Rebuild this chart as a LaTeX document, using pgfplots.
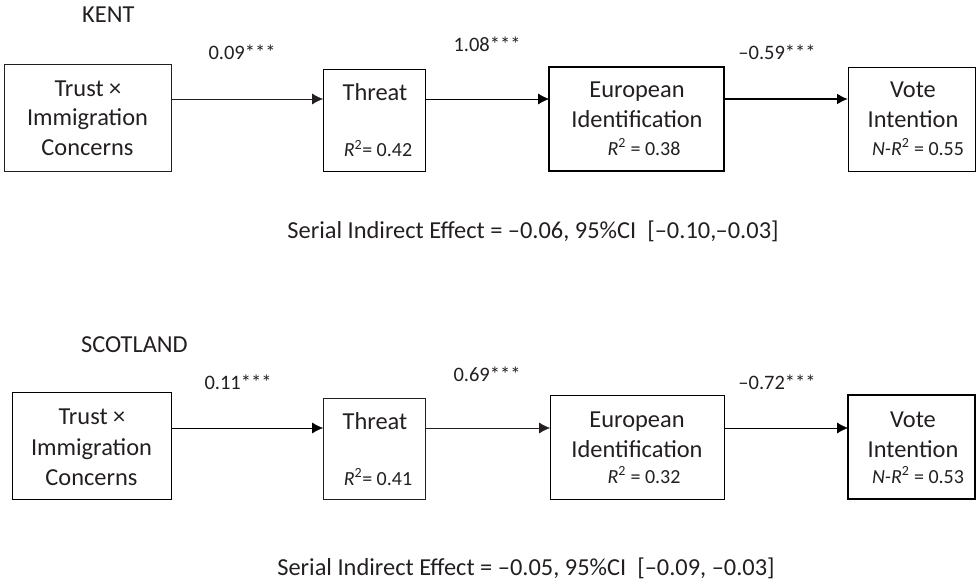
\documentclass[border=0pt]{standalone}
\usepackage{fontspec}
\setmainfont{Carlito}
\usepackage{pgfplots}
\pgfplotsset{compat=1.18}
\usetikzlibrary{arrows.meta}

\definecolor{ink}{HTML}{231F20}
\newcommand{\sq}{\smash{\textsuperscript{2}}}
\tikzset{
    coef/.style={font=\fontsize{20.5}{24}\selectfont},
    rsq/.style={font=\fontsize{20}{24}\selectfont},
}

\begin{document}
\begin{tikzpicture}
\begin{axis}[
    width=977pt, height=583pt,
    scale only axis,
    xmin=0, xmax=977, ymin=0, ymax=583,
    y dir=reverse,
    hide axis,
    clip=false,
    cycle list={{ink, solid, line width=2pt, mark=none}},
    nodes={font=\fontsize{24.4}{29}\selectfont, text=ink, inner sep=0pt},
]
% ---- KENT ----
\addplot coordinates {(4,64) (171,64) (171,171) (4,171) (4,64)} -- cycle;
\addplot coordinates {(323,69) (425,69) (425,171) (323,171) (323,69)} -- cycle;
\addplot coordinates {(549,67) (724,67) (724,171) (549,171) (549,67)} -- cycle;
\addplot coordinates {(848,67) (975,67) (975,171) (848,171) (848,67)} -- cycle;
\addplot+[-{Latex[length=11pt,width=11pt]}] coordinates {(171,99) (323,99)};
\addplot+[-{Latex[length=11pt,width=11pt]}] coordinates {(425,99) (549,99)};
\addplot+[-{Latex[length=11pt,width=11pt]}] coordinates {(724,99) (848,99)};

\node[anchor=base west] at (axis cs:82,23) {KENT};
\node[coef, anchor=base] at (axis cs:242,60) {0.09***};
\node[coef, anchor=base] at (axis cs:487,52) {1.08***};
\node[coef, anchor=base] at (axis cs:777,60) {–0.59***};

\node[anchor=base] at (axis cs:88,97) {Trust ×};
\node[anchor=base] at (axis cs:87.5,126) {Immigration};
\node[anchor=base] at (axis cs:87.5,156) {Concerns};
\node[anchor=base] at (axis cs:375,101) {Threat};
\node[rsq, anchor=base] at (axis cs:378,157) {{\itshape R}\sq= 0.42};
\node[anchor=base] at (axis cs:637,98) {European};
\node[anchor=base] at (axis cs:637,128) {Identification};
\node[rsq, anchor=base] at (axis cs:644,155) {{\itshape R}\sq{} = 0.38};
\node[anchor=base] at (axis cs:913,98) {Vote};
\node[anchor=base] at (axis cs:913,128) {Intention};
\node[rsq, anchor=base] at (axis cs:918,155) {{\itshape N-R}\sq{} = 0.55};
\node[anchor=base] at (axis cs:533,238) {Serial Indirect Effect = –0.06, 95\%CI\ \ [–0.10,–0.03]};

% ---- SCOTLAND ----
\addplot coordinates {(12,392) (171,392) (171,499) (12,499) (12,392)} -- cycle;
\addplot coordinates {(323,398) (425,398) (425,499) (323,499) (323,398)} -- cycle;
\addplot coordinates {(550,395) (724,395) (724,499) (550,499) (550,395)} -- cycle;
\addplot coordinates {(848,395) (975,395) (975,499) (848,499) (848,395)} -- cycle;
\addplot+[-{Latex[length=11pt,width=11pt]}] coordinates {(171,428) (323,428)};
\addplot+[-{Latex[length=11pt,width=11pt]}] coordinates {(425,428) (550,428)};
\addplot+[-{Latex[length=11pt,width=11pt]}] coordinates {(724,428) (848,428)};

\node[anchor=base west] at (axis cs:81,352) {SCOTLAND};
\node[coef, anchor=base] at (axis cs:238,389) {0.11***};
\node[coef, anchor=base] at (axis cs:487,381) {0.69***};
\node[coef, anchor=base] at (axis cs:777,389) {–0.72***};

\node[anchor=base] at (axis cs:92,424) {Trust ×};
\node[anchor=base] at (axis cs:91.5,455) {Immigration};
\node[anchor=base] at (axis cs:91.5,485) {Concerns};
\node[anchor=base] at (axis cs:375,429) {Threat};
\node[rsq, anchor=base] at (axis cs:378,485) {{\itshape R}\sq= 0.41};
\node[anchor=base] at (axis cs:637,427) {European};
\node[anchor=base] at (axis cs:637,457) {Identification};
\node[rsq, anchor=base] at (axis cs:644,483) {{\itshape R}\sq{} = 0.32};
\node[anchor=base] at (axis cs:913,427) {Vote};
\node[anchor=base] at (axis cs:913,457) {Intention};
\node[rsq, anchor=base] at (axis cs:918,483) {{\itshape N-R}\sq{} = 0.53};
\node[anchor=base] at (axis cs:526,575) {Serial Indirect Effect = –0.05, 95\%CI\ \ [–0.09, –0.03]};
\end{axis}
\pgfresetboundingbox
\useasboundingbox (current axis.south west) rectangle (current axis.north east);
\end{tikzpicture}
\end{document}
